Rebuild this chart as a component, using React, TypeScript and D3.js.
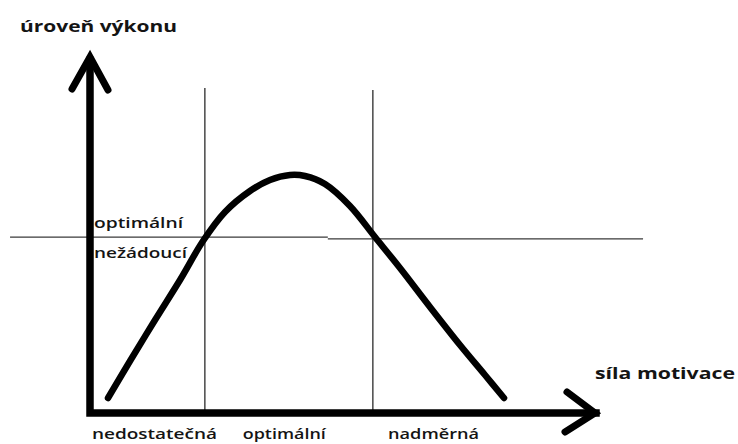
import React from "react";
import * as d3 from "d3";

// Motivation (x) and performance (y) on a 0–100 scale
const curveX = [3.56, 7.91, 12.85, 17.79, 22.33, 26.68, 31.62, 35.57, 39.53, 42.49, 46.44, 51.38, 56.32, 61.26, 67.19, 73.12, 78.06, 81.82];
const curveY = [4.21, 14.61, 26.12, 37.36, 48.31, 56.46, 62.36, 65.45, 66.85, 66.57, 64.33, 58.15, 49.44, 40.73, 29.78, 19.10, 10.67, 4.21];

// zone boundaries on motivation axis
const zoneBounds = [22.7, 55.9];
const zoneLabels = ["nedostatečná", "optimální", "nadměrná"];
const zoneLabelX = [0.4, 30.2, 58.9];
// performance threshold (hand-drawn, two segments)
const thresholdX = [-15.8, 47.0, 109.3];
const thresholdY = [49.4, 48.9];
const levelLabels = ["optimální", "nežádoucí"];

const yTitle = "úroveň výkonu";
const xTitle = "síla motivace";

export default function App() {
  const W = 738, H = 444;
  const x = d3.scaleLinear().domain([0, 100]).range([90, 596]);
  const y = d3.scaleLinear().domain([0, 100]).range([413, 57]);

  const pts: [number, number][] = curveX.map((v, i) => [x(v), y(curveY[i])]);
  const line = d3.line().curve(d3.curveCatmullRom.alpha(0.5));
  const curvePath = line(pts) || "";

  const font = "'Open Sans', 'Noto Sans', sans-serif";
  const txt = "#141414";

  return (
    <svg width={W} height={H} style={{ position: "absolute", left: 0, top: 0, background: "#fff" }}>
      <rect width={W} height={H} fill="#fff" />
      {/* threshold horizontal line */}
      <line x1={x(thresholdX[0])} x2={x(thresholdX[1])} y1={y(thresholdY[0])} y2={y(thresholdY[0])} stroke="#3a3a3a" strokeWidth={1.4} />
      <line x1={x(thresholdX[1])} x2={x(thresholdX[2])} y1={y(thresholdY[1])} y2={y(thresholdY[1])} stroke="#3a3a3a" strokeWidth={1.4} />
      {/* zone vertical lines */}
      {zoneBounds.map((b, i) => (
        <line key={i} x1={x(b)} x2={x(b)} y1={i === 0 ? 88 : 90} y2={410} stroke="#3a3a3a" strokeWidth={1.4} />
      ))}
      {/* curve */}
      <path d={curvePath} fill="none" stroke="#000" strokeWidth={6.5} strokeLinecap="round" strokeLinejoin="round" />
      {/* axes */}
      <path d={`M${x(0)},${y(99)} L${x(0)},${y(0)} L${x(100)},${y(0)}`} fill="none" stroke="#000" strokeWidth={7.5} strokeLinejoin="miter" strokeLinecap="square" />
      <path d={`M72,89 L${x(0)},${y(100)} L108,90`} fill="none" stroke="#000" strokeWidth={7} strokeLinecap="round" strokeLinejoin="miter" />
      <path d={`M567,392 L${x(100) - 1},${y(0)} L565,432`} fill="none" stroke="#000" strokeWidth={7} strokeLinecap="round" strokeLinejoin="miter" />
      {/* titles */}
      <text x={20} y={32} fontFamily={font} fontWeight={700} fontSize={16.5} fill={txt} textLength={157} lengthAdjust="spacingAndGlyphs">{yTitle}</text>
      <text x={595} y={379} fontFamily={font} fontWeight={700} fontSize={16.5} fill={txt} textLength={140} lengthAdjust="spacingAndGlyphs">{xTitle}</text>
      {/* level labels */}
      <text x={94} y={228} fontFamily={font} fontWeight={600} fontSize={15} fill={txt} textLength={89} lengthAdjust="spacingAndGlyphs">{levelLabels[0]}</text>
      <text x={94} y={258} fontFamily={font} fontWeight={600} fontSize={15} fill={txt} textLength={93} lengthAdjust="spacingAndGlyphs">{levelLabels[1]}</text>
      {/* zone labels */}
      {zoneLabels.map((l, i) => (
        <text key={i} x={x(zoneLabelX[i])} y={439} fontFamily={font} fontWeight={600} fontSize={15} fill={txt}
          textLength={[125, 83, 91][i]} lengthAdjust="spacingAndGlyphs">{l}</text>
      ))}
    </svg>
  );
}
